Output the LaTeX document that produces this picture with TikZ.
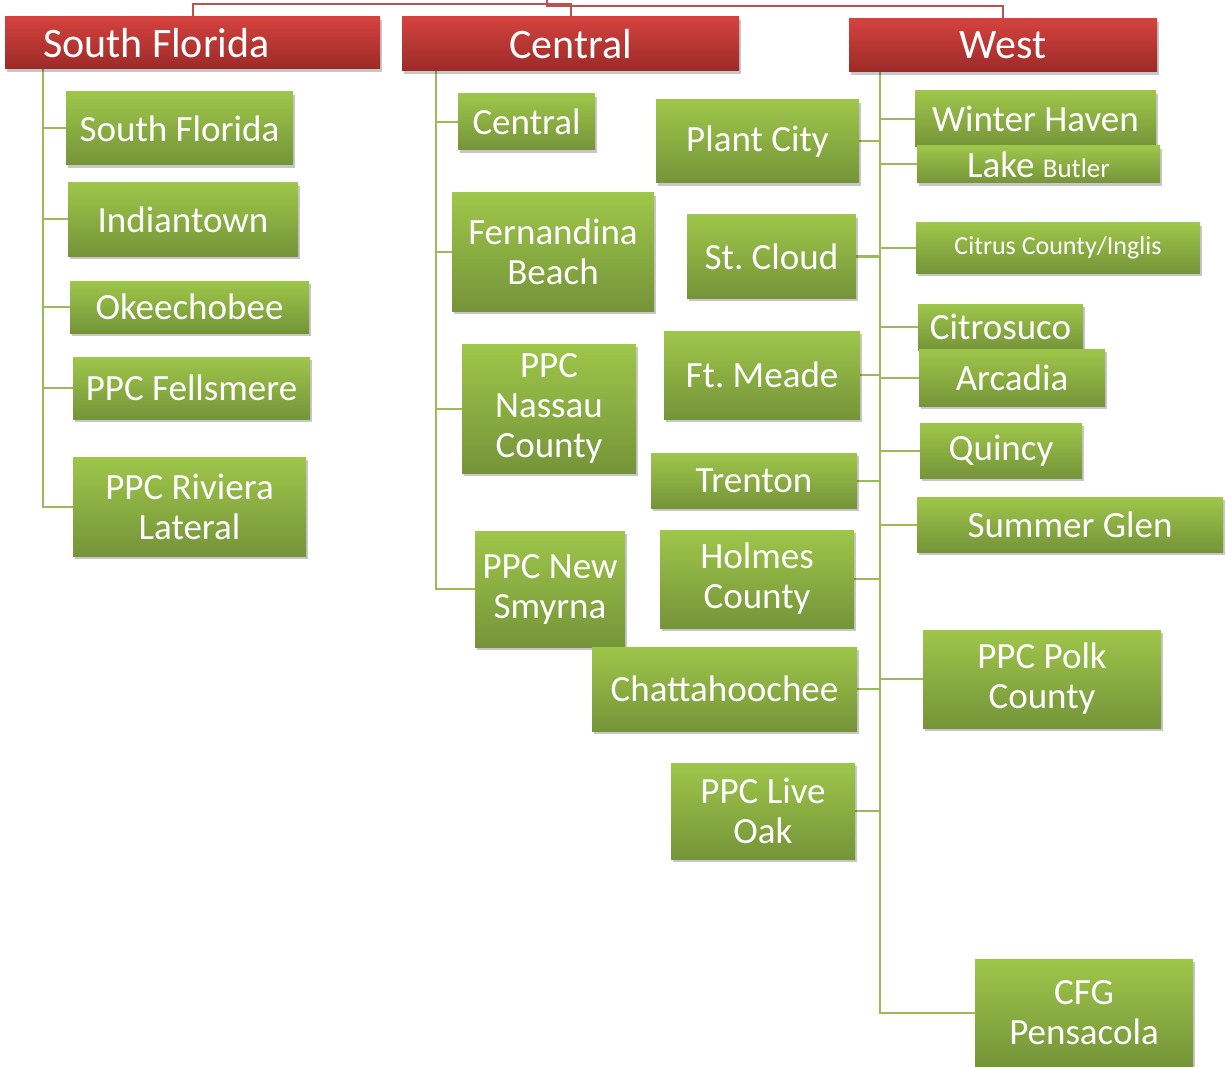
\documentclass[tikz,border=0pt]{standalone}
\usepackage{fontspec}
\setmainfont{Carlito}
\usetikzlibrary{shadows,backgrounds}
\definecolor{gtop}{RGB}{158,198,74}
\definecolor{gbot}{RGB}{117,148,57}
\definecolor{rtop}{RGB}{212,66,62}
\definecolor{rbot}{RGB}{156,42,40}
\definecolor{glinec}{RGB}{155,187,89}
\definecolor{rlinec}{RGB}{192,80,77}
\newcommand\gbox[6]{\node[gbox, minimum width=#4pt, minimum height=#5pt] (#1) at (#2,#3) {#6};}
\newcommand\rbox[6]{\node[rbox, minimum width=#4pt, minimum height=#5pt] (#1) at (#2,#3) {#6};}
\begin{document}
\frenchspacing
\begin{tikzpicture}[x=1pt,y=-1pt,
  boxshadow/.style={drop shadow={shadow xshift=2pt, shadow yshift=-3pt, opacity=0.22, fill=black}},
  gbox/.style={rectangle, inner sep=0pt, top color=gtop, bottom color=gbot, text=white,
    font=\fontsize{37}{40}\selectfont, align=center, boxshadow},
  rbox/.style={rectangle, inner sep=0pt, top color=rtop, bottom color=rbot, text=white,
    font=\fontsize{42}{46}\selectfont, align=center, boxshadow},
  gline/.style={draw=glinec, line width=2pt},
  rline/.style={draw=rlinec, line width=2pt}]
\useasboundingbox (0,0) rectangle (1225,1067);

% headers
\rbox{hSF}{192.5}{43}{375}{52}{\makebox[299pt][l]{South Florida}}
\rbox{hC}{570.5}{44}{337}{54}{Central}
\rbox{hW}{1003}{45.5}{308}{53}{West}

% South Florida branch
\gbox{sf1}{179.5}{128.5}{227}{73}{South Florida}
\gbox{sf2}{183}{219.5}{230}{73}{Indiantown}
\gbox{sf3}{189.5}{307}{239}{52}{Okeechobee}
\gbox{sf4}{191.5}{388}{237}{62}{PPC Fellsmere}
\gbox{sf5}{189.5}{506.5}{233}{99}{PPC Riviera\\Lateral}

% Central branch
\gbox{c1}{526.5}{122}{137}{56}{Central}
\gbox{c2}{553}{252}{202}{118}{Fernandina\\Beach}
\gbox{c3}{549}{408.5}{174}{129}{PPC\\Nassau\\County}
\gbox{c4}{550}{589}{150}{116}{PPC New\\Smyrna}

% West branch, left column
\gbox{w1}{757.5}{141.5}{203}{83}{Plant City}
\gbox{w2}{771.5}{256.5}{169}{83}{St. Cloud}
\gbox{w3}{762}{375}{196}{88}{Ft. Meade}
\gbox{w4}{754}{480.5}{206}{55}{Trenton}
\gbox{w5}{757}{579}{194}{98}{Holmes\\County}
\gbox{w6}{724.5}{689}{265}{84}{Chattahoochee}
\gbox{w7}{763}{811}{184}{96}{PPC Live\\Oak}

% West branch, right column
\gbox{e1}{1035.5}{119}{241}{56}{Winter Haven}
\gbox{e2}{1038.5}{164.5}{243}{37}{Lake {\fontsize{27}{30}\selectfont Butler}}
\gbox{e3}{1058}{248}{284}{50}{\fontsize{26}{30}\selectfont Citrus County/Inglis}
\gbox{e4}{1000.5}{327}{165}{46}{Citrosuco}
\gbox{e5}{1012}{377.5}{186}{57}{Arcadia}
\gbox{e6}{1001}{450.5}{162}{55}{Quincy}
\gbox{e7}{1070}{524.5}{306}{55}{Summer Glen}
\gbox{e8}{1042}{679}{238}{98}{PPC Polk\\County}
\gbox{e9}{1084}{1013}{218}{108}{CFG\\Pensacola}

\begin{scope}[on background layer]
  % top red connectors
  \coordinate (root) at (547,0);
  \coordinate (j1) at (hSF.north |- 0,4);
  \coordinate (j2) at (hC.north |- 0,4);
  \coordinate (j3) at (547,6);
  \coordinate (j4) at (hW.north |- 0,6);
  \draw[rline] (hSF.north) -- (j1) -- (j2) -- (hC.north);
  \draw[rline] (root) -- (j3) -- (j4) -- (hW.north);

  % trunks
  \coordinate (tSF) at (hSF.south west -| 43,0);
  \coordinate (tC) at (hC.south west -| 436,0);
  \coordinate (tW) at (hW.south west -| 880,0);
  \draw[gline] (tSF) |- (sf5.west);
  \draw[gline] (tC) |- (c4.west);
  \draw[gline] (tW) |- (e9.west);
  \foreach \n in {sf1,sf2,sf3,sf4} \draw[gline] (tSF |- \n.west) -- (\n.west);
  \foreach \n in {c1,c2,c3} \draw[gline] (tC |- \n.west) -- (\n.west);
  \foreach \n in {w1,w2,w3,w4,w5,w6,w7} \draw[gline] (tW |- \n.east) -- (\n.east);
  \foreach \n in {e1,e2,e3,e4,e5,e6,e7,e8} \draw[gline] (tW |- \n.west) -- (\n.west);
\end{scope}
\end{tikzpicture}
\end{document}
